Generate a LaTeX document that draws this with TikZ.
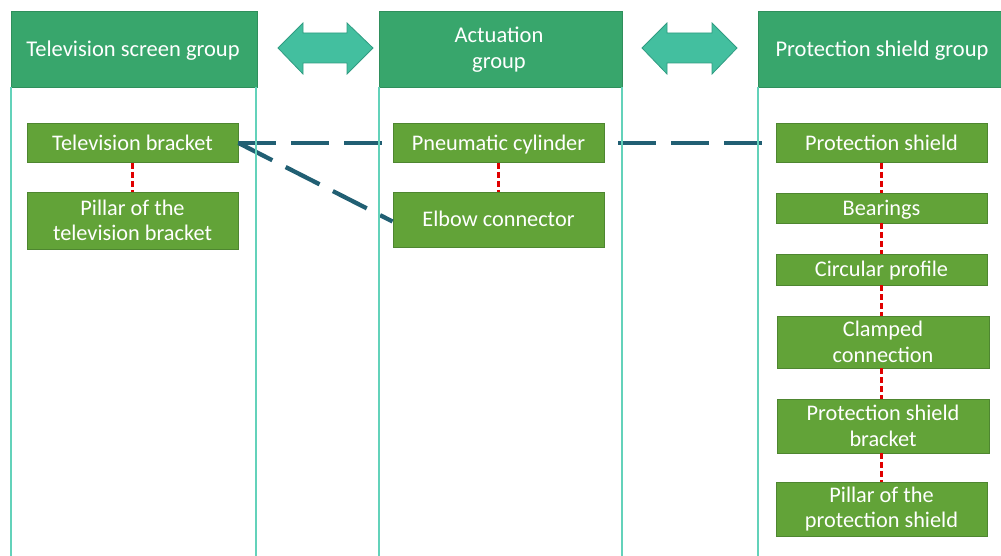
\documentclass[tikz,border=0pt]{standalone}
\usepackage{fontspec}
\setmainfont{Carlito}
\definecolor{hdrfill}{HTML}{38A66C}
\definecolor{hdrdraw}{HTML}{2F8F5C}
\definecolor{boxfill}{HTML}{62A338}
\definecolor{boxdraw}{HTML}{4E8630}
\definecolor{arrfill}{HTML}{43BF9F}
\definecolor{arrdraw}{HTML}{309C82}
\definecolor{colline}{HTML}{63D2BA}
\definecolor{linkcol}{HTML}{215F73}
\definecolor{redcol}{HTML}{E00000}
\begin{document}
\begin{tikzpicture}[x=1pt,y=-1pt,
  hdr/.style={draw=hdrdraw,fill=hdrfill,line width=0.8pt},
  hdrtext/.style={text=white,font=\fontsize{22.5}{26}\selectfont,align=center},
  comp/.style={draw=boxdraw,fill=boxfill,line width=0.9pt,text=white,font=\fontsize{22.3}{25.5}\selectfont,align=center,inner sep=0pt},
  oneline/.style={text height=14.4pt,text depth=0pt},
  colrule/.style={draw=colline,line width=1.3pt},
  dbl/.style={draw=arrdraw,fill=arrfill,line width=0.8pt},
  link/.style={draw=linkcol,line width=4.3pt,dash pattern=on 38pt off 15pt},
  tie/.style={draw=redcol,line width=2.4pt,dash pattern=on 6pt off 3pt}]
\useasboundingbox (0,0) rectangle (1001,556);
% headers
\path[hdr] (11,11) rectangle (257,87);
\path[hdr] (379,11) rectangle (622,87);
\path[hdr] (758,11) rectangle (1010,87);
\node[hdrtext,text height=14.5pt,text depth=0pt] (h1) at (133,49) {Television screen group};
\node[hdrtext] (h2) at (499,50) {Actuation\\group};
\node[hdrtext,text height=14.5pt,text depth=0pt] (h3) at (882,49) {Protection shield group};
% double arrows
\path[dbl] (278,48) -- (303,23) -- (303,33) -- (347,33) -- (347,23) -- (373,48) -- (347,74) -- (347,63) -- (303,63) -- (303,74) -- cycle;
\path[dbl] (642,48) -- (667,23) -- (667,33) -- (712,33) -- (712,23) -- (737,48) -- (712,74) -- (712,63) -- (667,63) -- (667,74) -- cycle;
% components
\node[comp,oneline,minimum width=211pt,minimum height=39pt] (tvb) at (132.5,143) {Television bracket};
\node[comp,minimum width=211pt,minimum height=57pt] (tvp) at (132.5,220.5) {Pillar of the\\television bracket};
\node[comp,oneline,minimum width=211pt,minimum height=39pt] (pc) at (498.5,143) {Pneumatic cylinder};
\node[comp,oneline,minimum width=211pt,minimum height=55pt] (ec) at (498.5,219.5) {Elbow connector};
\node[comp,oneline,minimum width=211pt,minimum height=39pt] (ps) at (881.5,143) {Protection shield};
\node[comp,oneline,minimum width=211pt,minimum height=30pt] (br) at (881.5,208) {Bearings};
\node[comp,oneline,minimum width=211pt,minimum height=31pt] (cp) at (881.5,269.5) {Circular profile};
\node[comp,minimum width=212pt,minimum height=52pt] (cc) at (883,342) {Clamped\\connection};
\node[comp,minimum width=212pt,minimum height=54pt] (psb) at (883,426) {Protection shield\\bracket};
\node[comp,minimum width=211pt,minimum height=54pt] (pps) at (881.5,509) {Pillar of the\\protection shield};
% red ties
\draw[tie] (tvb.south) -- (tvp.north);
\draw[tie] (pc.south) -- (ec.north);
\draw[tie] (ps.south) -- (br.north);
\draw[tie] (br.south) -- (cp.north);
\draw[tie] (cp.south) -- (cc.north -| cp.south);
\draw[tie] (cc.south -| cp.south) -- (psb.north -| cp.south);
\draw[tie] (psb.south -| cp.south) -- (pps.north -| cp.south);
% links
\draw[link] (tvb.east) -- (pc.west);
\draw[link] (tvb.east) -- ([yshift=-2pt]ec.west);
\draw[link,dash phase=39pt] (pc.east) -- (ps.west);
% column rules
\draw[colrule] (11,87) -- (11,556);
\draw[colrule] (256,87) -- (256,556);
\draw[colrule] (379,87) -- (379,556);
\draw[colrule] (622,87) -- (622,556);
\draw[colrule] (758,87) -- (758,556);
\end{tikzpicture}
\end{document}
